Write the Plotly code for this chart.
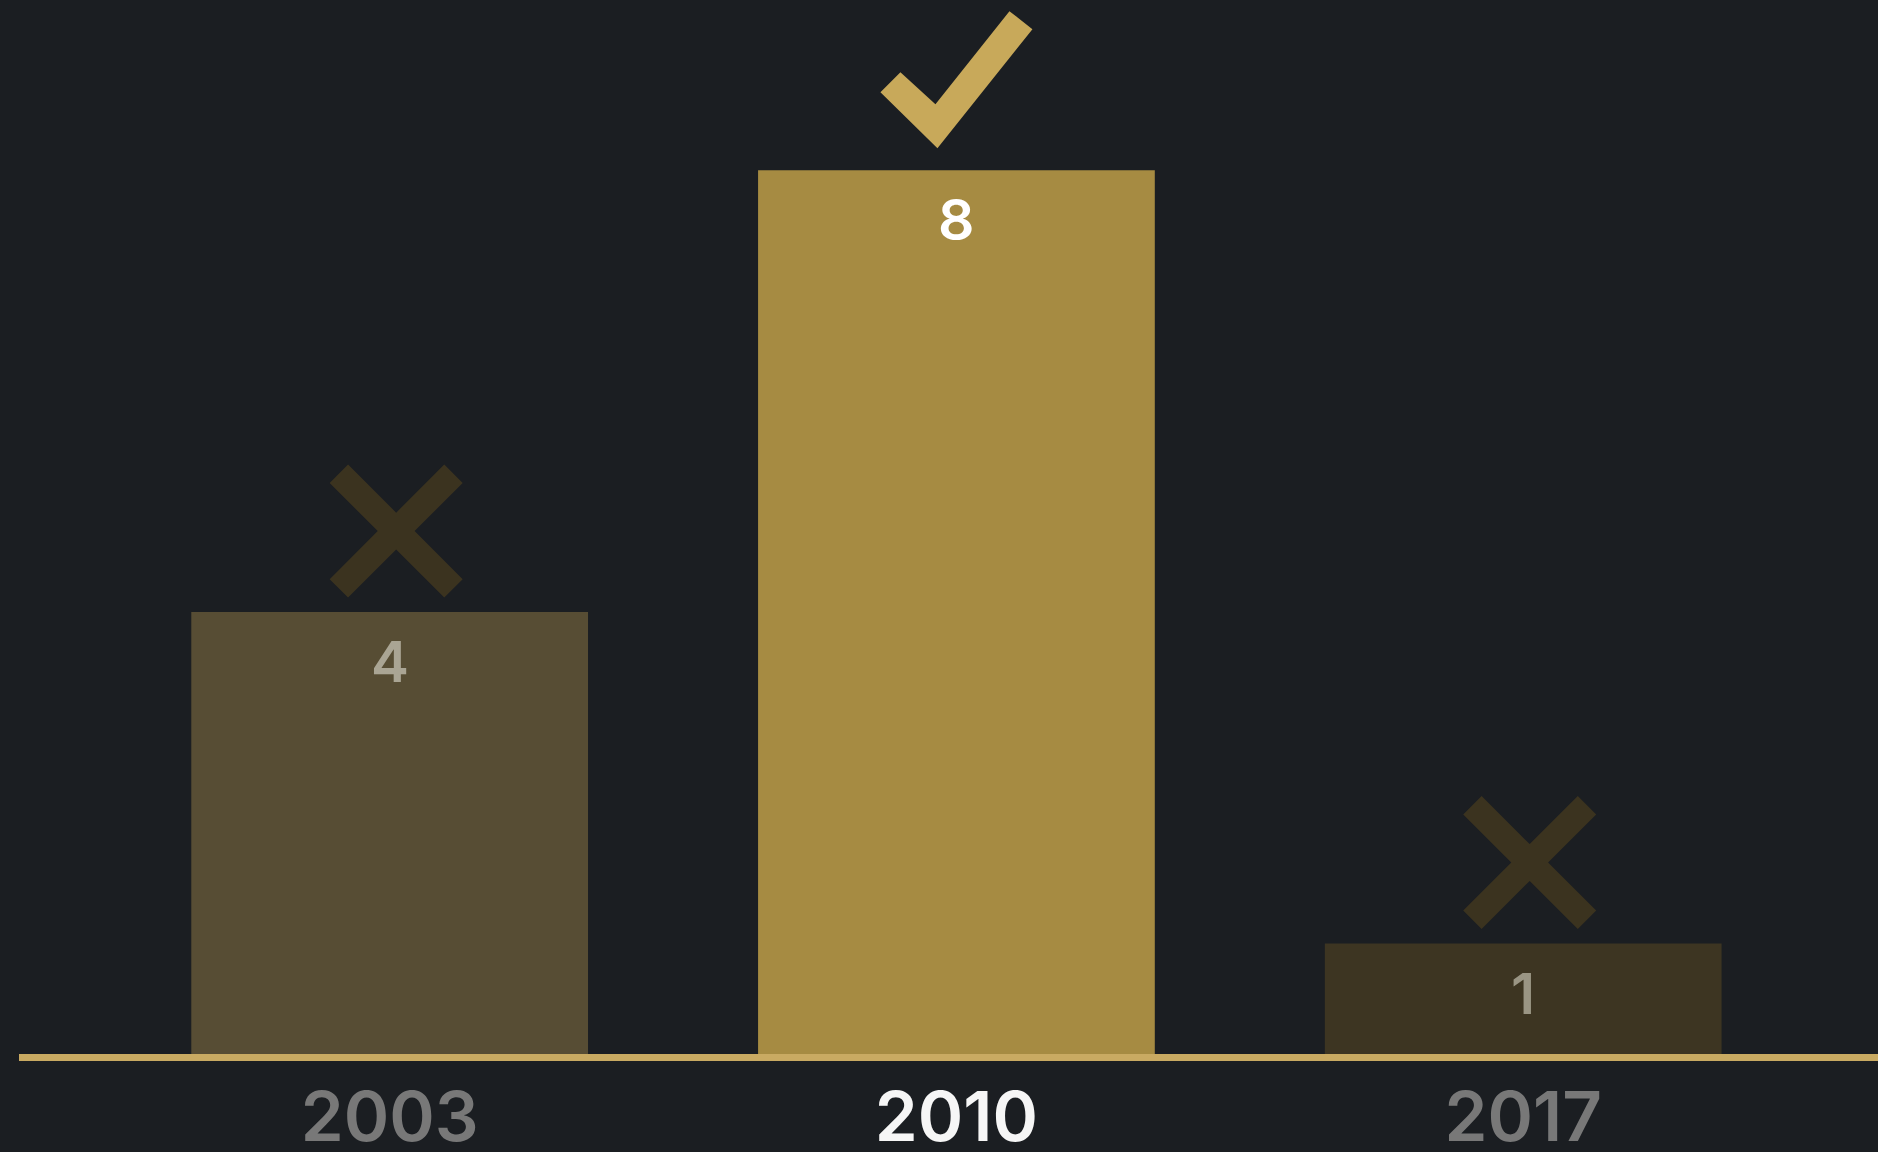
import plotly.graph_objects as go

# ---- data ----
years = ["2003", "2010", "2017"]
values = [4, 8, 1]
bar_colors = ["#574d34", "#a68b42", "#3d3522"]
value_text_colors = ["#aaa594", "#ffffff", "#9a9584"]
tick_colors = ["#787878", "#f6f6f6", "#787878"]
icons = ["x", "check", "x"]   # marker drawn above each bar
icon_colors = ["#3b331f", "#c8a95a", "#3b331f"]

BG = "#1b1e22"
FONT = "Inter"

xpos = list(range(len(years)))

fig = go.Figure()
fig.add_trace(go.Bar(
    x=xpos, y=values, width=0.70,
    marker=dict(color=bar_colors, line=dict(width=0)),
    hoverinfo="skip", showlegend=False,
))

# value labels just inside the top of each bar
annotations = []
for xi, v, c in zip(xpos, values, value_text_colors):
    annotations.append(dict(
        x=xi, y=v, xref="x", yref="y", text=str(v), showarrow=False,
        yanchor="top", xanchor="center", yshift=-13,
        font=dict(family=FONT, size=57, color=c, weight=600),
    ))

# icon geometry in pixels (relative to bar top-centre, y up)
def x_path(cx, cy):
    a, b, c = 66.5, 48.1, 18.4
    pts = [(0, c), (b, a), (a, b), (c, 0), (a, -b), (b, -a), (0, -c),
           (-b, -a), (-a, -b), (-c, 0), (-a, b), (-b, a)]
    return "M " + " L ".join(f"{cx+px:.1f},{cy+py:.1f}" for px, py in pts) + " Z"

def check_path():
    pts = [(-56, 98), (-21, 66), (53, 159), (76, 141), (-19, 22), (-76, 78)]
    return "M " + " L ".join(f"{px:.1f},{py:.1f}" for px, py in pts) + " Z"

shapes = []
for i, (v, ic, col) in enumerate(zip(values, icons, icon_colors)):
    path = x_path(6.5, 81) if ic == "x" else check_path()
    shapes.append(dict(
        type="path", xref="x", yref="y",
        xsizemode="pixel", ysizemode="pixel",
        xanchor=xpos[i], yanchor=v,
        path=path, fillcolor=col, line=dict(width=0), layer="above",
    ))

ticktext = [f'<span style="color:{c}">{y}</span>' for y, c in zip(years, tick_colors)]

fig.update_layout(
    width=1878, height=1152,
    margin=dict(l=19, r=0, t=0, b=98, pad=0),
    paper_bgcolor=BG, plot_bgcolor=BG,
    shapes=shapes,
    annotations=annotations,
    xaxis=dict(
        range=[-0.654, 2.626], tickmode="array", tickvals=xpos, ticktext=ticktext,
        showline=True, linecolor="#c9aa62", linewidth=7,
        showgrid=False, zeroline=False, ticks="",
        tickfont=dict(family=FONT, size=69, color="#787878", weight=600),
        ticklabelstandoff=-3, automargin=False,
        fixedrange=True,
    ),
    yaxis=dict(range=[0, 9.54], visible=False, fixedrange=True, automargin=False),
)

fig.write_html(
    "out.html",
    config={"displayModeBar": False},
    post_script="document.body.style.margin='0';document.body.style.overflow='hidden';"
                "document.body.style.background='" + BG + "';",
)
